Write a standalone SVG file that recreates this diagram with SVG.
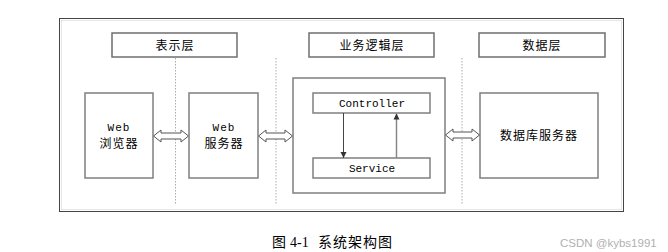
<svg xmlns="http://www.w3.org/2000/svg" width="668" height="252" viewBox="0 0 668 252">
<defs>
<style>
.box{fill:#fff;stroke:#7f7f7f;stroke-width:1.5}
.hdr{fill:#fff;stroke:#6f6f6f;stroke-width:1.5}
.zh{font-family:"Noto Sans CJK SC","Noto Sans",sans-serif;font-size:12px;fill:#000;text-anchor:middle;letter-spacing:1px}
.mono{font-family:"Liberation Mono",monospace;font-size:11px;fill:#000;text-anchor:middle}
.dash{stroke:#aaa;stroke-width:1;stroke-dasharray:1.5,1.5;fill:none}
.dbl{fill:#fff;stroke:#555;stroke-width:1}
</style>
<marker id="ah" viewBox="0 0 10 10" refX="10" refY="5" markerWidth="6" markerHeight="7" orient="auto" markerUnits="userSpaceOnUse">
<path d="M0,0 L10,5 L0,10 Z" fill="#333"/>
</marker>
</defs>
<rect width="668" height="252" fill="#fff"/>
<g id="frame">
<rect x="59.5" y="18.5" width="564" height="193" fill="#fff" stroke="#444" stroke-width="1"/>
<rect x="61.5" y="20.5" width="560" height="189" fill="none" stroke="#e6e6e6" stroke-width="1"/>
</g>
<g id="dividers">
<line class="dash" x1="175.5" y1="58" x2="175.5" y2="205"/>
<line class="dash" x1="276" y1="58" x2="276" y2="205"/>
<line class="dash" x1="462" y1="58" x2="462" y2="205"/>
</g>
<g id="hdr-present"><rect class="hdr" x="112" y="33" width="125" height="24"/><text class="zh" x="175" y="49.5">表示层</text></g>
<g id="hdr-business"><rect class="hdr" x="309" y="33" width="125" height="24"/><text class="zh" x="372" y="49.5">业务逻辑层</text></g>
<g id="hdr-data"><rect class="hdr" x="479" y="33" width="126" height="24"/><text class="zh" x="542" y="49.5">数据层</text></g>
<g id="browser"><rect class="box" x="85" y="93" width="68" height="85"/><text class="mono" x="119" y="131" letter-spacing="1">Web</text><text class="zh" x="119" y="148">浏览器</text></g>
<g id="webserver"><rect class="box" x="189" y="93" width="69" height="85"/><text class="mono" x="224" y="131" letter-spacing="1">Web</text><text class="zh" x="224" y="148">服务器</text></g>
<g id="business"><rect class="box" x="293" y="78" width="152" height="115" stroke-width="2"/></g>
<g id="controller"><rect class="box" x="313" y="93" width="117" height="20"/><text class="mono" x="372" y="107">Controller</text></g>
<g id="service"><rect class="box" x="313" y="158" width="117" height="20"/><text class="mono" x="372" y="172">Service</text></g>
<g id="dbserver"><rect class="box" x="480" y="93" width="118" height="85"/><text class="zh" x="539" y="140">数据库服务器</text></g>
<g id="connectors">
<path class="dbl" d="M153.5,136 L161,130 L161,133 L181,133 L181,130 L188.5,136 L181,142 L181,139 L161,139 L161,142 Z"/>
<path class="dbl" d="M258.5,136 L266,130 L266,133 L285,133 L285,130 L292.5,136 L285,142 L285,139 L266,139 L266,142 Z"/>
<path class="dbl" d="M445.5,135 L453,129 L453,132 L472,132 L472,129 L479.5,135 L472,141 L472,138 L453,138 L453,141 Z"/>
<line x1="343.5" y1="113" x2="343.5" y2="158" stroke="#444" stroke-width="1" marker-end="url(#ah)"/>
<line x1="396.5" y1="158" x2="396.5" y2="113.5" stroke="#888" stroke-width="1.5" marker-end="url(#ah)"/>
</g>
<g id="caption">
<text x="272" y="247" font-family="'Noto Sans CJK SC',sans-serif" font-size="14" fill="#000">图</text>
<text x="290" y="247" font-family="'Liberation Serif',serif" font-size="14" fill="#000">4-1</text>
<text x="318" y="247" font-family="'Noto Sans CJK SC',sans-serif" font-size="14" letter-spacing="1" fill="#000">系统架构图</text>
<text x="560" y="247" font-family="'Liberation Sans',sans-serif" font-size="11.5" fill="#b0b0b0">CSDN @kybs1991</text>
</g>
</svg>
